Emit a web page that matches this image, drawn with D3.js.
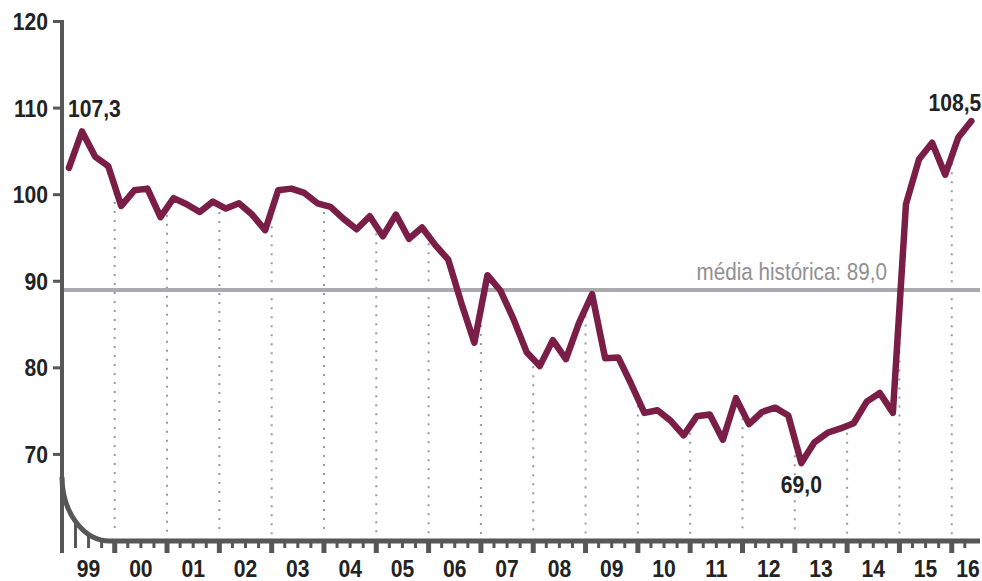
<!DOCTYPE html>
<html>
<head>
<meta charset="utf-8">
<script src="https://cdn.jsdelivr.net/npm/d3@7"></script>
<style>
  body { margin: 0; background: #fff; }
  svg { display: block; font-family: "Liberation Sans", Arial, sans-serif; }
</style>
</head>
<body>
<script>
// trimestres 1999 T1 .. 2016 T2
const years = ['99', '00', '01', '02', '03', '04', '05', '06', '07', '08', '09', '10', '11', '12', '13', '14', '15', '16'];
const values = [
  103.1, 107.3, 104.4, 103.3,
  98.7, 100.5, 100.7, 97.4,
  99.6, 98.9, 98.0, 99.2,
  98.4, 99.0, 97.7, 95.9,
  100.5, 100.7, 100.2, 99.0,
  98.6, 97.2, 96.0, 97.5,
  95.2, 97.7, 94.9, 96.2,
  94.2, 92.5, 87.5, 82.9,
  90.7, 88.9, 85.6, 81.8,
  80.2, 83.2, 81.0, 85.2,
  88.5, 81.1, 81.2, 78.1,
  74.8, 75.1, 73.9, 72.2,
  74.4, 74.6, 71.7, 76.5,
  73.5, 74.9, 75.4, 74.5,
  69.0, 71.4, 72.5, 73.0,
  73.6, 76.1, 77.1, 74.8,
  98.9, 104.1, 106.0, 102.3,
  106.6, 108.5
];
const yTicks = [70, 80, 90, 100, 110, 120];
const average = 89.0;
const averageLabel = "média histórica: 89,0";
const notes = [
  { i: 1, text: "107,3" },
  { i: 56, text: "69,0" },
  { i: 69, text: "108,5" }
];

const width = 982, height = 581;
const lineColor = "#7a1e47";
const axisColor = "#575757";

const data = values.map((v, i) => ({ t: 1999 + (i + 0.5) / 4, v: v }));

const x = d3.scaleLinear().domain([1999, 2016.5]).range([62.4, 977.9]);
const y = d3.scaleLinear().domain([60, 120]).range([541, 21.5]);

const svg = d3.select("body").append("svg")
  .attr("width", width)
  .attr("height", height);

// fonte estreita
function place(px, py, q) {
  return `translate(${px},${py}) scale(${q || 0.88},1)`;
}

// linhas pontilhadas nas viradas de ano
const boundaries = d3.range(1, 18).map(k => ({
  t: 1999 + k,
  v: (values[4 * k - 1] + values[4 * k]) / 2
}));
svg.append("g")
  .selectAll("line")
  .data(boundaries)
  .join("line")
  .attr("x1", d => x(d.t))
  .attr("x2", d => x(d.t))
  .attr("y1", d => y(d.v) + 7)
  .attr("y2", 535)
  .attr("stroke", "#9a9a9a")
  .attr("stroke-width", 2)
  .attr("stroke-dasharray", "2,7");

// média histórica
svg.append("line")
  .attr("x1", x(1999))
  .attr("x2", 980)
  .attr("y1", y(average))
  .attr("y2", y(average))
  .attr("stroke", "#ababad")
  .attr("stroke-width", 4);
svg.append("text")
  .attr("transform", place(887, y(average) - 10, 0.86))
  .attr("text-anchor", "end")
  .attr("fill", "#8f8f91")
  .style("font-size", "24px")
  .text(averageLabel);

// eixo y
svg.append("line")
  .attr("x1", 62).attr("x2", 62)
  .attr("y1", 20).attr("y2", 553)
  .attr("stroke", axisColor)
  .attr("stroke-width", 4);
svg.append("g")
  .selectAll("line")
  .data(yTicks)
  .join("line")
  .attr("x1", 53).attr("x2", 62)
  .attr("y1", y).attr("y2", y)
  .attr("stroke", axisColor)
  .attr("stroke-width", 3);
svg.append("g")
  .selectAll("text")
  .data(yTicks)
  .join("text")
  .attr("transform", d => place(48, y(d)))
  .attr("dy", "0.36em")
  .attr("text-anchor", "end")
  .attr("fill", "#222")
  .style("font-size", "24px")
  .style("font-weight", "bold")
  .text(d => d);

// eixo x com a curva no canto
const cx = 110, cy = 477, rx = 48, ry = 64;
svg.append("path")
  .attr("d", `M62,${cy} A${rx},${ry} 0 0 0 ${cx},541 L980,541`)
  .attr("fill", "none")
  .attr("stroke", axisColor)
  .attr("stroke-width", 5);

const quarters = d3.range(1, 70).map(k => 1999 + k / 4);
svg.append("g")
  .selectAll("line")
  .data(quarters)
  .join("line")
  .attr("x1", d => x(d))
  .attr("x2", d => x(d))
  .attr("y1", d => {
    const px = x(d);
    if (px < cx) return cy + ry * Math.sqrt(1 - Math.pow((px - cx) / rx, 2));
    return 541;
  })
  .attr("y2", d => (d % 1 === 0 ? 553 : 548))
  .attr("stroke", axisColor)
  .attr("stroke-width", d => (d % 1 === 0 ? 5 : 3));

svg.append("g")
  .selectAll("text")
  .data(years)
  .join("text")
  .attr("transform", (d, i) => place(Math.min(x(1999 + i + 0.5), 968), 577))
  .attr("text-anchor", "middle")
  .attr("fill", "#222")
  .style("font-size", "24px")
  .style("font-weight", "bold")
  .text(d => d);

// série
const line = d3.line()
  .x(d => x(d.t))
  .y(d => y(d.v));
svg.append("path")
  .datum(data)
  .attr("d", line)
  .attr("fill", "none")
  .attr("stroke", lineColor)
  .attr("stroke-width", 6.5)
  .attr("stroke-linejoin", "round")
  .attr("stroke-linecap", "round");

// rótulos
const notePos = {
  "107,3": { dx: -14, dy: -14, anchor: "start" },
  "69,0": { dx: 0, dy: 30, anchor: "middle" },
  "108,5": { dx: 10, dy: -10, anchor: "end" }
};
svg.append("g")
  .selectAll("text")
  .data(notes)
  .join("text")
  .attr("transform", d => place(x(data[d.i].t) + notePos[d.text].dx, y(data[d.i].v) + notePos[d.text].dy))
  .attr("text-anchor", d => notePos[d.text].anchor)
  .attr("fill", "#222")
  .style("font-size", "24px")
  .style("font-weight", "bold")
  .text(d => d.text);
</script>
</body>
</html>
